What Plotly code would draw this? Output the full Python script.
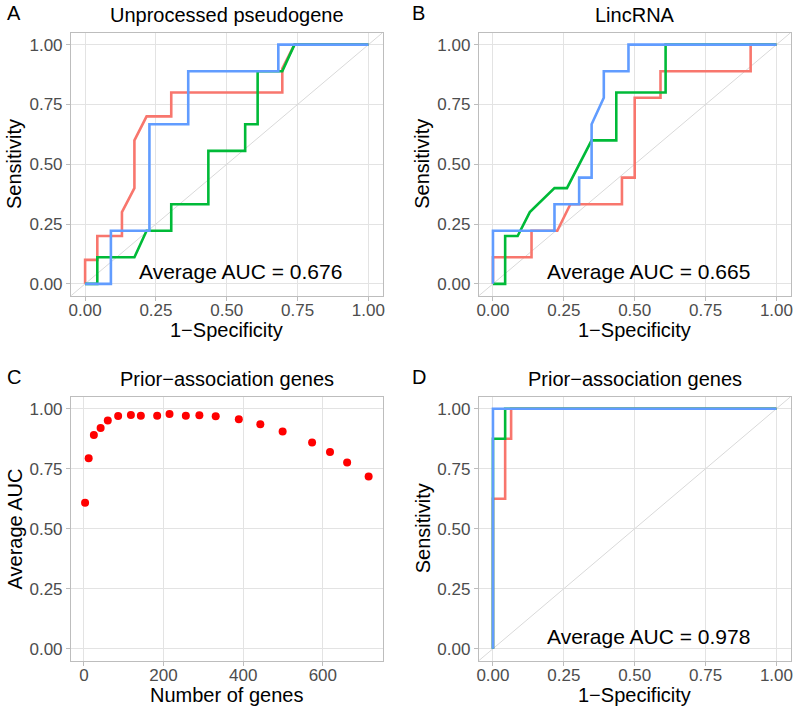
import plotly.graph_objects as go

W, H = 796, 708

# ---------------- data ----------------
# Panel A: Unprocessed pseudogene (ROC curves, 1-specificity vs sensitivity)
a_red_fpr = [0, 0, 0.043, 0.043, 0.130, 0.130, 0.174, 0.174, 0.217, 0.304, 0.304, 0.696, 0.696, 0.739, 1.0]
a_red_tpr = [0, 0.1, 0.1, 0.2, 0.2, 0.3, 0.4, 0.6, 0.7, 0.7, 0.8, 0.8, 0.9, 1.0, 1.0]
a_green_fpr = [0, 0.043, 0.043, 0.174, 0.217, 0.304, 0.304, 0.435, 0.435, 0.565, 0.565, 0.609, 0.609, 0.696, 0.739, 1.0]
a_green_tpr = [0, 0, 0.111, 0.111, 0.222, 0.222, 0.333, 0.333, 0.556, 0.556, 0.667, 0.667, 0.889, 0.889, 1.0, 1.0]
a_blue_fpr = [0, 0.091, 0.091, 0.227, 0.227, 0.364, 0.364, 0.682, 0.682, 1.0]
a_blue_tpr = [0, 0, 0.222, 0.222, 0.667, 0.667, 0.889, 0.889, 1.0, 1.0]

# Panel B: LincRNA
b_red_fpr = [0, 0, 0.136, 0.136, 0.227, 0.273, 0.455, 0.455, 0.5, 0.5, 0.591, 0.591, 0.909, 0.909, 1.0]
b_red_tpr = [0, 0.111, 0.111, 0.222, 0.222, 0.333, 0.333, 0.444, 0.444, 0.778, 0.778, 0.889, 0.889, 1.0, 1.0]
b_green_fpr = [0, 0.043, 0.043, 0.087, 0.130, 0.217, 0.261, 0.348, 0.435, 0.435, 0.609, 0.609, 1.0]
b_green_tpr = [0, 0, 0.2, 0.2, 0.3, 0.4, 0.4, 0.6, 0.6, 0.8, 0.8, 1.0, 1.0]
b_blue_fpr = [0, 0, 0.217, 0.217, 0.304, 0.304, 0.348, 0.348, 0.391, 0.391, 0.478, 0.478, 1.0]
b_blue_tpr = [0, 0.222, 0.222, 0.333, 0.333, 0.444, 0.444, 0.667, 0.778, 0.889, 0.889, 1.0, 1.0]

# Panel C: Prior-association genes (average AUC vs number of genes)
c_genes = [3, 12, 25, 42, 60, 86, 118, 143, 184, 215, 256, 290, 331, 389, 443, 499, 573, 618, 661, 715]
c_auc = [0.608, 0.794, 0.890, 0.920, 0.951, 0.970, 0.974, 0.971, 0.971, 0.978,
         0.971, 0.973, 0.969, 0.956, 0.935, 0.905, 0.859, 0.820, 0.776, 0.718]

# Panel D: Prior-association genes (ROC)
d_red_fpr = [0, 0, 0.043, 0.043, 0.064, 0.064, 1.0]
d_red_tpr = [0, 0.625, 0.625, 0.875, 0.875, 1.0, 1.0]
d_green_fpr = [0, 0, 0.043, 0.043, 1.0]
d_green_tpr = [0, 0.875, 0.875, 1.0, 1.0]
d_blue_fpr = [0, 0, 1.0]
d_blue_tpr = [0, 1.0, 1.0]

panel_letters = ["A", "B", "C", "D"]
panel_titles = ["Unprocessed pseudogene", "LincRNA", "Prior\u2212association genes", "Prior\u2212association genes"]
auc_texts = ["Average AUC = 0.676", "Average AUC = 0.665", None, "Average AUC = 0.978"]
x_titles = ["1\u2212Specificity", "1\u2212Specificity", "Number of genes", "1\u2212Specificity"]
y_titles = ["Sensitivity", "Sensitivity", "Average AUC", "Sensitivity"]
roc_ticks = [0, 0.25, 0.5, 0.75, 1.0]
gene_ticks = [0, 200, 400, 600]

# ---------------- style ----------------
RED, GREEN, BLUE = "#F8766D", "#00BA38", "#619CFF"
FONT = "Liberation Sans, Arial, sans-serif"
LW = 2.6
roc_range = [-0.05, 1.05]
gene_range = [-32.5, 750]

xdom_left = [69.3 / W, 382.5 / W]
xdom_right = [479.2 / W, 792.6 / W]
ydom_top = [1 - 295.8 / H, 1 - 32.7 / H]
ydom_bot = [1 - 660.7 / H, 1 - 396.7 / H]

fig = go.Figure()

def roc_panel(idx, curves):
    ax = "" if idx == 1 else str(idx)
    xa, ya = "x" + ax, "y" + ax
    fig.add_trace(go.Scatter(x=roc_range, y=roc_range, mode="lines",
                             line=dict(color="#D9D9D9", width=1),
                             xaxis=xa, yaxis=ya, showlegend=False, hoverinfo="skip"))
    for (fx, ty), col in zip(curves, [RED, GREEN, BLUE]):
        fig.add_trace(go.Scatter(x=fx, y=ty, mode="lines",
                                 line=dict(color=col, width=LW),
                                 xaxis=xa, yaxis=ya, showlegend=False))

roc_panel(1, [(a_red_fpr, a_red_tpr), (a_green_fpr, a_green_tpr), (a_blue_fpr, a_blue_tpr)])
roc_panel(2, [(b_red_fpr, b_red_tpr), (b_green_fpr, b_green_tpr), (b_blue_fpr, b_blue_tpr)])
fig.add_trace(go.Scatter(x=c_genes, y=c_auc, mode="markers",
                         marker=dict(color="#FF0000", size=8),
                         xaxis="x3", yaxis="y3", showlegend=False))
roc_panel(4, [(d_red_fpr, d_red_tpr), (d_green_fpr, d_green_tpr), (d_blue_fpr, d_blue_tpr)])

axis_common = dict(showline=True, mirror=True, linecolor="#BDBDBD", linewidth=1,
                   showgrid=True, gridcolor="#E3E3E3", gridwidth=1, zeroline=False,
                   ticks="outside", ticklen=4, tickcolor="#BDBDBD", tickwidth=1,
                   tickfont=dict(family=FONT, size=17, color="#4D4D4D"))

def xaxis_def(dom, rng, tv, anchor, fmt):
    d = dict(axis_common, domain=dom, range=rng, tickvals=tv, anchor=anchor, ticklabelstandoff=-5)
    if fmt:
        d["tickformat"] = fmt
    return d

def yaxis_roc(dom, anchor):
    return dict(axis_common, domain=dom, range=roc_range, tickvals=roc_ticks,
                tickformat=".2f", anchor=anchor)

fig.update_layout(
    width=W, height=H, margin=dict(l=0, r=0, t=0, b=0),
    paper_bgcolor="white", plot_bgcolor="white",
    font=dict(family=FONT),
    xaxis=xaxis_def(xdom_left, roc_range, roc_ticks, "y", ".2f"),
    yaxis=yaxis_roc(ydom_top, "x"),
    xaxis2=xaxis_def(xdom_right, roc_range, roc_ticks, "y2", ".2f"),
    yaxis2=yaxis_roc(ydom_top, "x2"),
    xaxis3=xaxis_def(xdom_left, gene_range, gene_ticks, "y3", None),
    yaxis3=yaxis_roc(ydom_bot, "x3"),
    xaxis4=xaxis_def(xdom_right, roc_range, roc_ticks, "y4", ".2f"),
    yaxis4=yaxis_roc(ydom_bot, "x4"),
)

def px(x):
    return x / W

def py(y):
    return 1 - y / H

ann = []
panels = [(69.3, 382.5, 32.7, 295.8), (479.2, 792.6, 32.7, 295.8),
          (69.3, 382.5, 396.7, 660.7), (479.2, 792.6, 396.7, 660.7)]
letter_x = [3, 410.5, 3, 410.5]
for i, (l, r, t, b) in enumerate(panels):
    cx = (l + r) / 2
    ann.append(dict(text=panel_letters[i], x=px(letter_x[i]), y=py(t - 19.5), xref="paper", yref="paper",
                    xanchor="left", yanchor="middle", showarrow=False,
                    font=dict(family=FONT, size=20, color="black")))
    ann.append(dict(text=panel_titles[i], x=px(cx), y=py(t - 17.5), xref="paper", yref="paper",
                    xanchor="center", yanchor="middle", showarrow=False,
                    font=dict(family=FONT, size=20, color="black")))
    ann.append(dict(text=x_titles[i], x=px(cx), y=py(b + 34.5), xref="paper", yref="paper",
                    xanchor="center", yanchor="middle", showarrow=False,
                    font=dict(family=FONT, size=20, color="black")))
    ann.append(dict(text=y_titles[i], x=px(l - 56.5), y=py((t + b) / 2), xref="paper", yref="paper",
                    xanchor="center", yanchor="middle", showarrow=False, textangle=-90,
                    font=dict(family=FONT, size=20, color="black")))
    if auc_texts[i]:
        ax = "" if i == 0 else str(i + 1)
        ann.append(dict(text=auc_texts[i], x=0.55, y=0.05, xref="x" + ax, yref="y" + ax,
                        xanchor="center", yanchor="middle", showarrow=False,
                        font=dict(family=FONT, size=21, color="black")))

fig.update_layout(annotations=ann)
fig.write_html("out.html", config={"displayModeBar": False},
               post_script="document.body.style.margin='0';document.body.style.padding='0';")
